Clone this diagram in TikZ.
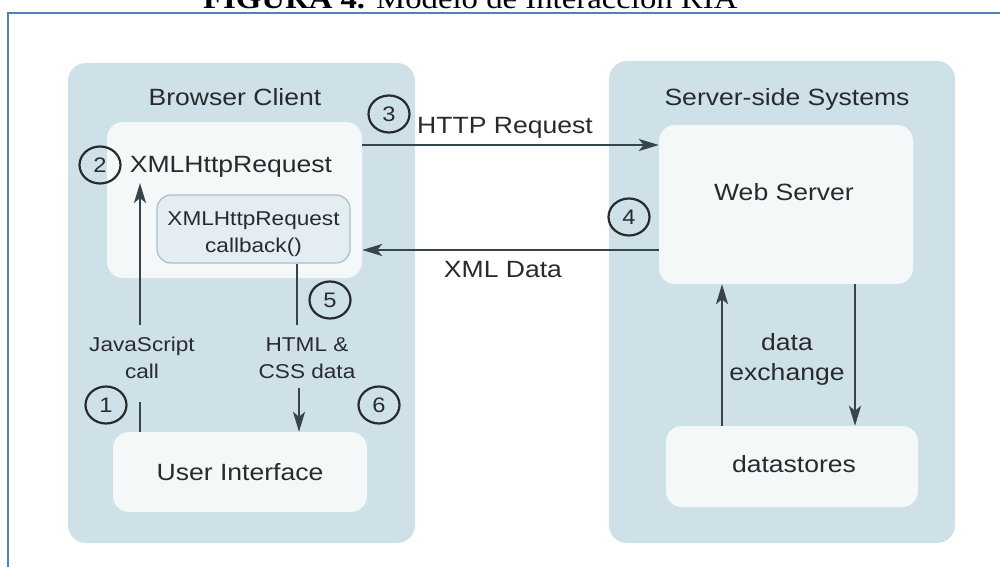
\documentclass[tikz,border=0pt]{standalone}
\usepackage{fontspec}
\setmainfont[FakeStretch=1.13]{Liberation Sans}
\newfontfamily\capfont[FakeStretch=1.13]{Liberation Serif}
\usetikzlibrary{arrows.meta,shapes.geometric}
\definecolor{panel}{RGB}{207,225,232}
\definecolor{inner}{RGB}{245,248,249}
\definecolor{cbfill}{RGB}{228,238,242}
\definecolor{cbline}{RGB}{165,192,202}
\definecolor{ink}{RGB}{40,43,46}
\definecolor{wirec}{RGB}{55,68,78}
\definecolor{framec}{RGB}{79,129,189}
\newcommand\myfs[2]{\fontsize{#1}{#2}\selectfont}
\tikzset{
  panelbox/.style={fill=panel, draw=none, rounded corners=18pt, inner sep=0pt},
  innerbox/.style={fill=inner, draw=none, rounded corners=16pt, inner sep=0pt},
  cbbox/.style={fill=cbfill, draw=cbline, line width=1.2pt, rounded corners=14pt, inner sep=0pt},
  bigtxt/.style={text=ink, font=\myfs{23.5}{30}, inner sep=0pt, align=center},
  smalltxt/.style={text=ink, font=\myfs{20}{27}, inner sep=0pt, align=center},
  numc/.style={ellipse, draw=ink, line width=2.2pt, minimum width=41pt, minimum height=37pt, inner sep=0pt, text=ink, font=\myfs{21}{24}},
  wire/.style={draw=wirec, line width=2.4pt},
  wirearrow/.style={wire, -{Stealth[length=20pt,width=12pt,inset=5pt]}},
  framec line/.style={draw=framec, line width=2pt}
}
\begin{document}
\begin{tikzpicture}[x=1pt,y=-1pt]
\useasboundingbox (0,0) rectangle (1000,567);
\fill[white] (0,0) rectangle (1000,567);
% caption, cut off at the top as in the reference
\begin{scope}
\clip (0,0) rectangle (1000,567);
\node[anchor=base west, inner sep=0pt, text=black, font={\capfont\myfs{29}{34}}] (cap) at (203,8.5) {\textbf{FIGURA 4.} Modelo de Interacción RIA};
\end{scope}
% frame
\draw[framec line] (1000,13) -- (8,13) -- (8,567);
% panels
\node[panelbox, minimum width=347pt, minimum height=480pt] (bc) at (241.5,303) {};
\node[panelbox, minimum width=346pt, minimum height=482pt] (ss) at (782,302) {};
\node[bigtxt] (bct) at (235,97) {Browser Client};
\node[bigtxt] (sst) at (787,99) {Server-side Systems};
% inner boxes
\node[innerbox, minimum width=255pt, minimum height=156pt] (xhr) at (234.5,200) {};
\node[cbbox, minimum width=193pt, minimum height=68pt] (cb) at (253.5,229) {};
\node[smalltxt] (cbt) at (253.5,234) {XMLHttpRequest\\callback()};
\node[bigtxt] (xhrt) at (231,167) {XMLHttpRequest};
\node[innerbox, minimum width=254pt, minimum height=80pt] (ui) at (240,472) {};
\node[bigtxt] (uit) at (240,472) {User Interface};
\node[innerbox, minimum width=254pt, minimum height=159pt] (ws) at (786,204.5) {};
\node[bigtxt] (wst) at (784,192) {Web Server};
\node[innerbox, minimum width=252pt, minimum height=81pt] (ds) at (792,466.5) {};
\node[bigtxt] (dst) at (794,464) {datastores};
% labels
\node[bigtxt] (httpt) at (505,128) {HTTP Request};
\node[bigtxt] (xmlt) at (503,270) {XML Data};
\node[smalltxt] (jst) at (142,358) {JavaScript\\call};
\node[smalltxt] (htmlt) at (307,358) {HTML \&\\CSS data};
\node[bigtxt] (dxt) at (787,359) {data\\exchange};
% numbered circles
\node[numc] (n1) at (106,405) {1};
\node[numc] (n2) at (100,165) {2};
\node[numc] (n3) at (389,114) {3};
\node[numc] (n4) at (629,217) {4};
\node[numc] (n5) at (330,300) {5};
\node[numc] (n6) at (379,405) {6};
% connectors
\coordinate (yh) at (0,145);
\coordinate (yx) at (0,250);
\draw[wirearrow] (xhr.east |- yh) -- (ws.west |- yh);
\draw[wirearrow] (ws.west |- yx) -- (xhr.east |- yx);
\coordinate (jsA) at (140,402);
\coordinate (jsB) at (140,325);
\coordinate (jsC) at (140,183);
\draw[wire] (ui.north -| jsA) -- (jsA);
\draw[wirearrow] (jsB) -- (jsC);
\coordinate (hA) at (297,325);
\coordinate (hB) at (299,388);
\draw[wire] (cb.south -| hA) -- (hA);
\draw[wirearrow] (hB) -- (ui.north -| hB);
\coordinate (dl) at (722,0);
\coordinate (dr) at (855,0);
\draw[wirearrow] (ds.north -| dl) -- (ws.south -| dl);
\draw[wirearrow] (ws.south -| dr) -- (ds.north -| dr);
\end{tikzpicture}
\end{document}
